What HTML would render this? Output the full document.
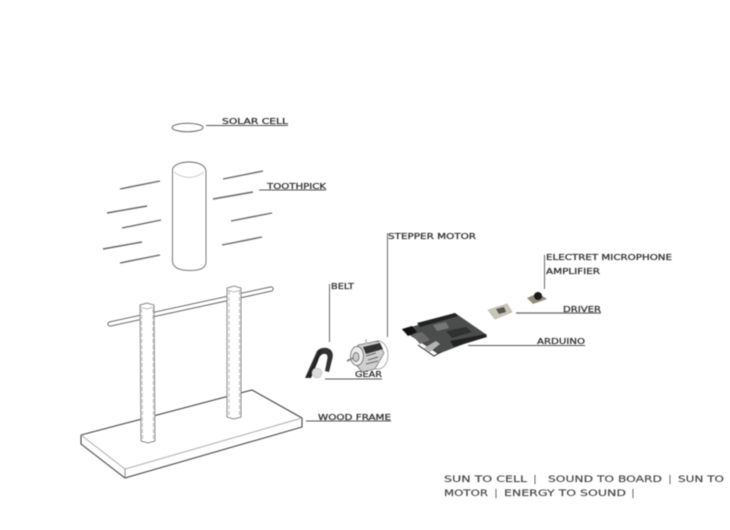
<!DOCTYPE html>
<html><head><meta charset="utf-8"><style>
html,body{margin:0;padding:0;background:#fff;width:730px;height:530px;overflow:hidden}
svg{display:block;filter:blur(.45px)}
text{font-family:"DejaVu Sans","Liberation Sans",sans-serif;font-size:7.500px;fill:#333;stroke:#333;stroke-width:.25px}
.b{font-size:8.500px;fill:#444;stroke:#444;stroke-width:.15px}
</style></head><body>
<svg width="730" height="530" viewBox="0 0 730 530" xmlns="http://www.w3.org/2000/svg">
<rect width="730" height="530" fill="#fff"/>
<!-- solar cell -->
<ellipse cx="187.500" cy="127.500" rx="15.500" ry="4.300" fill="#fff" stroke="#666" stroke-width="1"/>
<path d="M206 125.500H288" stroke="#555" stroke-width="1"/>
<text x="222" y="124" textLength="66" lengthAdjust="spacingAndGlyphs">SOLAR CELL</text>
<!-- cylinder -->
<path d="M172.500 170V262Q174 270.500 190 270.500T206 262V170" fill="#fff" stroke="#777" stroke-width="1"/>
<path d="M172.500 170A16.500 8 0 0 1 205.500 170" fill="none" stroke="#666" stroke-width="1"/>
<path d="M174 172Q189 183 204 172" fill="none" stroke="#ccc" stroke-width="1"/>
<!-- toothpicks -->
<g stroke="#666" stroke-width="1.400" fill="none">
<path d="M120 189L160 181"/><path d="M223 179L263 171"/><path d="M213 199L253 192"/>
<path d="M107 213L147 206"/><path d="M122 228L161 220"/><path d="M231 221L272 213"/>
<path d="M103 249L142 242"/><path d="M222 245L262 237"/><path d="M120 263L160 255"/>
</g>
<path d="M259 190H326" stroke="#555" stroke-width="1"/>
<text x="267" y="189" textLength="59" lengthAdjust="spacingAndGlyphs">TOOTHPICK</text>
<!-- base -->
<path d="M81 435L252 390L302 418V427L125 478L81 444Z" fill="#fff" stroke="#444" stroke-width="1.100"/>
<path d="M81 435L125 469L302 418" fill="none" stroke="#aaa" stroke-width="1"/>
<path d="M125 469V478" stroke="#888" stroke-width="1"/>
<!-- crossbar -->
<path d="M110 324L271 289" stroke="#555" stroke-width="5.200" stroke-linecap="round" fill="none"/>
<path d="M110 324L271 289" stroke="#fff" stroke-width="3.400" stroke-linecap="round" fill="none"/>
<!-- posts -->
<path d="M140 305L147 303L154 305L155 441L148 443L141 441Z" fill="#fff" stroke="#888" stroke-width="1"/>
<path d="M141.500 309L142.500 441M153 309L153.500 441" stroke="#aaa" stroke-width=".8" stroke-dasharray="4 2" fill="none"/>
<path d="M140 307L147 309L154 307" fill="none" stroke="#aaa" stroke-width=".8"/>
<path d="M227 288L234 286L241 288L241 417L234 419L227 417Z" fill="#fff" stroke="#888" stroke-width="1"/>
<path d="M229 291L229 416M239.500 291V416" stroke="#aaa" stroke-width=".8" stroke-dasharray="4 2" fill="none"/>
<path d="M227 290L234 292L241 290" fill="none" stroke="#aaa" stroke-width=".8"/>
<path d="M306 421H391" stroke="#555" stroke-width="1"/>
<text x="318" y="420" textLength="73" lengthAdjust="spacingAndGlyphs">WOOD FRAME</text>
<!-- belt -->
<path d="M329.500 284V342" stroke="#666" stroke-width="1"/>
<text x="331" y="289" textLength="23" lengthAdjust="spacingAndGlyphs">BELT</text>
<path d="M305 378L317 351Q321 347 327 348Q334 350 332.500 358L329 372L325 371L327.500 358Q328 353 323 354Q319.500 355 318 361L311 378Z" fill="#333"/>
<path d="M307 377L319 351L322 350L311 377Z" fill="#222"/>
<circle cx="317" cy="373" r="4.800" fill="#ddd" stroke="#ccc"/>
<path d="M325 379H382" stroke="#555" stroke-width="1"/>
<text x="355" y="377" textLength="27" lengthAdjust="spacingAndGlyphs">GEAR</text>
<!-- motor -->
<path d="M387.500 233V337" stroke="#666" stroke-width="1"/>
<text x="388" y="239" textLength="88" lengthAdjust="spacingAndGlyphs">STEPPER MOTOR</text>
<g fill="none" stroke="#666" stroke-width=".7">
<ellipse cx="378" cy="355" rx="10" ry="14" stroke="#888" fill="#fff"/>
<path d="M358 345L378 341L384 353L375 369L362 372L354 362Z" fill="#d0d0d0"/>
<ellipse cx="357" cy="356" rx="6.500" ry="9.500" fill="#eee" stroke="#555"/>
<ellipse cx="356" cy="357" rx="3" ry="4.500" fill="#ccc" stroke="#555"/>
<path d="M347 361L353 358" stroke="#888" stroke-width="2"/>
<path d="M363 347L380 343L383 349L366 354Z" fill="#333" stroke="none"/>
<path d="M366 356L376 353M368 360L378 357M366 364L378 361" stroke="#444"/>
<path d="M366 344V339" stroke="#bbb" stroke-width="1.500"/>
</g>
<!-- arduino -->
<path d="M402 330L455 313L487 335L438 354Z" fill="#4a4d4c"/>
<path d="M402 329L412 326L417 332L408 336Z" fill="#111"/>
<path d="M417 323L455 313L458 316L420 327Z" fill="#222"/>
<path d="M450 341L486 334L487 337L454 347Z" fill="#222"/>
<path d="M433 325L446 322L449 328L437 331Z" fill="#777"/>
<path d="M424 348L436 341L440 344L430 352Z" fill="#b5b5b5"/>
<path d="M412 335L422 332L430 340L420 344Z" fill="#6b6b6b"/>
<path d="M446 331L466 327L472 332L452 338Z" fill="#303030"/>
<path d="M418 345L434 356L441 352" stroke="#222" fill="none"/>
<path d="M468 345.500H585" stroke="#555" stroke-width="1"/>
<text x="537" y="344" textLength="48" lengthAdjust="spacingAndGlyphs">ARDUINO</text>
<!-- driver -->
<path d="M488 310L507 304L512 312L495 319Z" fill="#c9c6b4" stroke="#aaa" stroke-width=".6"/>
<path d="M496 309L504 307L506 312L499 314Z" fill="#555"/>
<path d="M516 313H601" stroke="#666" stroke-width="1.200"/>
<text x="563" y="312" textLength="38" lengthAdjust="spacingAndGlyphs">DRIVER</text>
<!-- mic -->
<path d="M527 298L538 293L547 299L533 304Z" fill="#8e8d78"/>
<circle cx="538" cy="296" r="4" fill="#1a1a1a"/>
<path d="M544.500 255V289" stroke="#666" stroke-width="1"/>
<text x="546" y="260" textLength="126" lengthAdjust="spacingAndGlyphs">ELECTRET MICROPHONE</text>
<text x="546" y="274" textLength="54" lengthAdjust="spacingAndGlyphs">AMPLIFIER</text>
<!-- caption -->
<text class="b" x="444" y="482" textLength="83" lengthAdjust="spacingAndGlyphs">SUN TO CELL</text>
<text class="b" x="548" y="482" textLength="114" lengthAdjust="spacingAndGlyphs">SOUND TO BOARD</text>
<text class="b" x="678" y="482" textLength="46" lengthAdjust="spacingAndGlyphs">SUN TO</text>
<text class="b" x="444" y="496" textLength="44" lengthAdjust="spacingAndGlyphs">MOTOR</text>
<text class="b" x="504" y="496" textLength="122" lengthAdjust="spacingAndGlyphs">ENERGY TO SOUND</text>
<text class="b" x="533.500" y="482">|</text>
<text class="b" x="668.500" y="482">|</text>
<text class="b" x="494.500" y="496">|</text>
<text class="b" x="631.500" y="496">|</text>
</svg>
</body></html>
